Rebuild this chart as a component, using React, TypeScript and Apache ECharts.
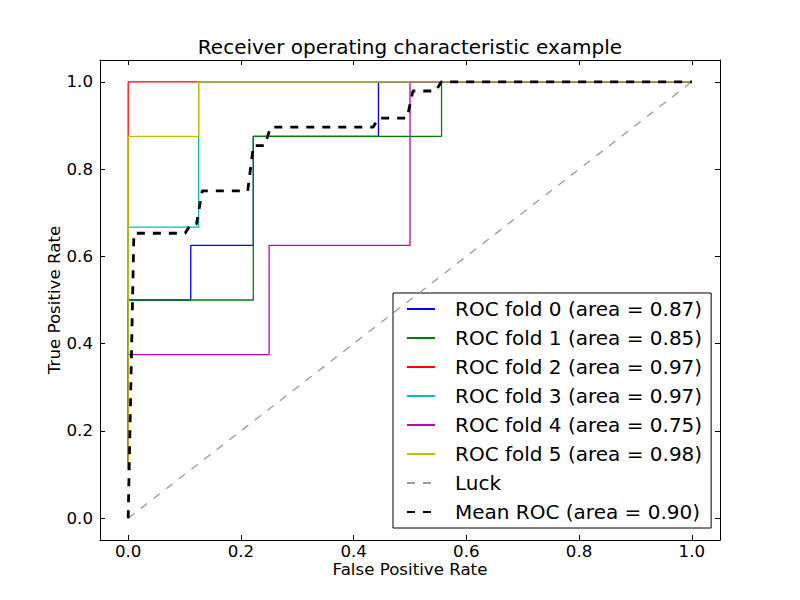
import React, { useEffect, useRef } from 'react';
import * as echarts from 'echarts';

const FONT = "'DejaVu Sans', 'Bitstream Vera Sans', sans-serif";

const titleText = 'Receiver operating characteristic example';
const xAxisName = 'False Positive Rate';
const yAxisName = 'True Positive Rate';
const tickValues = [0, 0.2, 0.4, 0.6, 0.8, 1.0];

const foldNames = [
  'ROC fold 0 (area = 0.87)',
  'ROC fold 1 (area = 0.85)',
  'ROC fold 2 (area = 0.97)',
  'ROC fold 3 (area = 0.97)',
  'ROC fold 4 (area = 0.75)',
  'ROC fold 5 (area = 0.98)',
];
const foldColors = ['#0000ff', '#008000', '#ff0000', '#00bfbf', '#bf00bf', '#bfbf00'];

const fold0 = [[0, 0.125], [0, 0.5], [0.111, 0.5], [0.111, 0.625], [0.222, 0.625], [0.222, 0.875], [0.444, 0.875], [0.444, 1], [1, 1]];
const fold1 = [[0, 0.125], [0, 0.5], [0.222, 0.5], [0.222, 0.875], [0.556, 0.875], [0.556, 1], [1, 1]];
const fold2 = [[0, 0.111], [0, 1], [1, 1]];
const fold3 = [[0, 0.111], [0, 0.667], [0.125, 0.667], [0.125, 1], [1, 1]];
const fold4 = [[0, 0.125], [0, 0.375], [0.25, 0.375], [0.25, 0.625], [0.5, 0.625], [0.5, 1], [1, 1]];
const fold5 = [[0, 0.125], [0, 0.875], [0.125, 0.875], [0.125, 1], [1, 1]];
const folds = [fold0, fold1, fold2, fold3, fold4, fold5];

const luckName = 'Luck';
const luck = [[0, 0], [1, 1]];

const meanName = 'Mean ROC (area = 0.90)';
const meanRoc = [
  [0, 0], [0.0101, 0.653], [0.101, 0.653], [0.1111, 0.674], [0.1212, 0.674],
  [0.1313, 0.75], [0.2121, 0.75], [0.2222, 0.854], [0.2424, 0.854], [0.2525, 0.896],
  [0.4343, 0.896], [0.4444, 0.917], [0.4949, 0.917], [0.5051, 0.979], [0.5455, 0.979],
  [0.5556, 1], [1, 1],
];

export default function App() {
  const ref = useRef<HTMLDivElement>(null);
  useEffect(() => {
    if (!ref.current) return;
    const chart = echarts.init(ref.current, undefined, { renderer: 'svg' });

    const axisCommon = {
      type: 'value' as const,
      min: -0.05,
      max: 1.05,
      splitLine: { show: false },
      axisLine: { show: true, onZero: false, lineStyle: { color: '#000', width: 1 } },
      axisTick: { show: true, inside: true, length: 5, customValues: tickValues, lineStyle: { color: '#000' } },
    };

    const series: any[] = folds.map((d, i) => ({
      name: foldNames[i],
      type: 'line',
      data: d,
      symbol: 'none',
      color: foldColors[i],
      lineStyle: { color: foldColors[i], width: 1.3 },
      z: 2 + i,
    }));
    series.push({
      name: luckName,
      type: 'line',
      data: luck,
      symbol: 'none',
      color: '#999999',
      lineStyle: { color: '#999999', width: 1.3, type: [8, 8] },
      z: 10,
    });
    series.push({
      name: meanName,
      type: 'line',
      data: meanRoc,
      symbol: 'none',
      color: '#000000',
      lineStyle: { color: '#000000', width: 2.8, type: [8, 8] },
      z: 11,
    });

    chart.setOption({
      animation: false,
      backgroundColor: '#ffffff',
      textStyle: { fontFamily: FONT },
      grid: { left: 100, top: 60, width: 620, height: 480, containLabel: false, outerBoundsMode: 'none' },
      xAxis: [
        {
          ...axisCommon,
          position: 'bottom',
          axisLabel: {
            show: true,
            customValues: tickValues,
            formatter: (v: number) => v.toFixed(1),
            color: '#000',
            fontSize: 16.67,
            fontFamily: FONT,
            margin: 3,
          },
        },
        {
          ...axisCommon,
          position: 'top',
          axisLabel: { show: false },
        },
      ],
      yAxis: [
        {
          ...axisCommon,
          position: 'left',
          axisLabel: {
            show: true,
            customValues: tickValues,
            formatter: (v: number) => v.toFixed(1),
            color: '#000',
            fontSize: 16.67,
            fontFamily: FONT,
            margin: 7,
          },
        },
        {
          ...axisCommon,
          position: 'right',
          axisLabel: { show: false },
        },
      ],
      legend: {
        show: true,
        orient: 'vertical',
        left: 393,
        top: 293,
        padding: [5, 9, 5, 13],
        itemWidth: 28,
        itemHeight: 14,
        itemGap: 7,
        backgroundColor: '#ffffff',
        borderColor: '#000000',
        borderWidth: 1,
        borderRadius: 0,
        itemStyle: { opacity: 0 },
        data: [...foldNames, luckName, meanName],
        textStyle: { fontSize: 20, fontFamily: FONT, color: '#000', lineHeight: 22, padding: [0, 0, 0, 15] },
      },
      graphic: [
        {
          type: 'text',
          x: 410,
          y: 46.5,
          style: { text: titleText, font: `20px ${FONT}`, fill: '#000', textAlign: 'center', textVerticalAlign: 'middle' },
        },
        {
          type: 'text',
          x: 410,
          y: 569,
          style: { text: xAxisName, font: `16.67px ${FONT}`, fill: '#000', textAlign: 'center', textVerticalAlign: 'middle' },
        },
        {
          type: 'text',
          x: 54,
          y: 300,
          rotation: Math.PI / 2,
          style: { text: yAxisName, font: `16.67px ${FONT}`, fill: '#000', textAlign: 'center', textVerticalAlign: 'middle' },
        },
      ],
      series,
    });

    return () => chart.dispose();
  }, []);

  return <div ref={ref} style={{ position: 'fixed', left: 0, top: 0, width: 800, height: 600 }} />;
}
